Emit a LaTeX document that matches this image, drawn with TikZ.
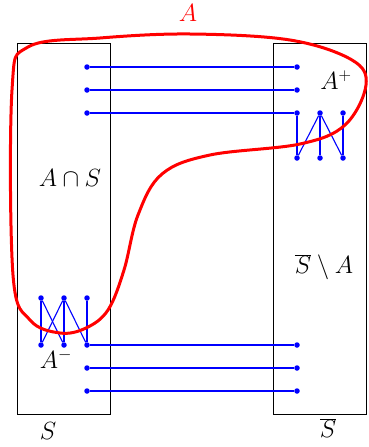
\documentclass[tikz,border=0pt]{standalone}
\begin{document}
\begin{tikzpicture}[x=1pt,y=-1pt,
  dot/.style={circle,fill=blue,inner sep=0pt,minimum size=5.5pt},
  edge/.style={blue,line width=1.1pt},
  box/.style={draw=black,line width=0.9pt},
  lbl/.style={font=\fontsize{23}{27}\selectfont,inner sep=0pt}]
\useasboundingbox (0,0) rectangle (369,447);
% boxes
\draw[box] (17,43) rectangle (110,414);
\draw[box] (273,43) rectangle (366,414);
% dots
\node[dot] (la) at (87,67) {};
\node[dot] (lb) at (87,90) {};
\node[dot] (lc) at (87,113) {};
\node[dot] (ra) at (297,67) {};
\node[dot] (rb) at (297,90) {};
\node[dot] (rc) at (297,113) {};
\node[dot] (rd) at (320,113) {};
\node[dot] (re) at (343,113) {};
\node[dot] (rf) at (297,158) {};
\node[dot] (rg) at (320,158) {};
\node[dot] (rh) at (343,158) {};
\node[dot] (lt1) at (41,298) {};
\node[dot] (lt2) at (64,298) {};
\node[dot] (lt3) at (87,298) {};
\node[dot] (lb1) at (41,345) {};
\node[dot] (lb2) at (64,345) {};
\node[dot] (lb3) at (87,345) {};
\node[dot] (ld) at (87,368) {};
\node[dot] (le) at (87,391) {};
\node[dot] (rx) at (297,345) {};
\node[dot] (ry) at (297,368) {};
\node[dot] (rz) at (297,391) {};
% edges
\draw[edge] (la) -- (ra);
\draw[edge] (lb) -- (rb);
\draw[edge] (lc) -- (rc);
\draw[edge] (rc) -- (rf);
\draw[edge] (rd) -- (rf);
\draw[edge] (rd) -- (rg);
\draw[edge] (rd) -- (rh);
\draw[edge] (re) -- (rh);
\draw[edge] (lt1) -- (lb1);
\draw[edge] (lt1) -- (lb2);
\draw[edge] (lt2) -- (lb1);
\draw[edge] (lt2) -- (lb2);
\draw[edge] (lt2) -- (lb3);
\draw[edge] (lt3) -- (lb3);
\draw[edge] (lb3) -- (rx);
\draw[edge] (ld) -- (ry);
\draw[edge] (le) -- (rz);
% red set A
\draw[red,line width=3pt] plot[smooth cycle,tension=0.6] coordinates {
  (12,90) (28,47) (100,38) (190,34) (290,40) (352,60) (366,85)
  (345,125) (300,144) (210,155) (162,174) (138,215) (124,270)
  (108,310) (86,328) (60,333) (30,320) (13,275)};
% labels
\node[lbl,red] (tA) at (188,13) {$A$};
\node[lbl] (tAp) at (336,80) {$A^+$};
\node[lbl] (tAS) at (70,178) {$A\cap S$};
\node[lbl] (tSA) at (324,267) {$\overline{S}\setminus A$};
\node[lbl] (tAm) at (56,359) {$A^-$};
\node[lbl] (tS) at (48,431) {$S$};
\node[lbl] (tSb) at (328,428) {$\overline{S}$};
\end{tikzpicture}
\end{document}
